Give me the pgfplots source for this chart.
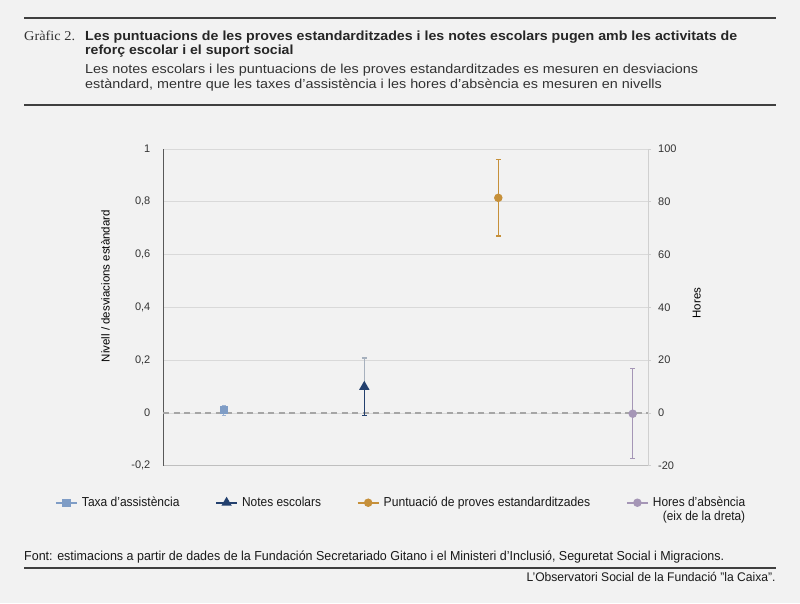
\documentclass[border=0pt]{standalone}
\usepackage{fontspec}
\setmainfont{Liberation Sans}
\newfontfamily\serifc{Liberation Serif}
\usepackage{graphicx}
\usepackage{pgfplots}
\pgfplotsset{compat=1.18}
\definecolor{bg}{HTML}{F2F2F2}
\definecolor{txt}{HTML}{333333}
\definecolor{rulec}{HTML}{3F3F3F}
\definecolor{gridc}{HTML}{D9D9D9}
\definecolor{c595959}{HTML}{595959}
\definecolor{cBFBFBF}{HTML}{BFBFBF}
\definecolor{cD0D0D0}{HTML}{D0D0D0}
\definecolor{taxa}{HTML}{7F9DC6}
\definecolor{taxaE}{HTML}{9DB3D2}
\definecolor{notes}{HTML}{23406E}
\definecolor{notesE}{HTML}{A7B1BE}
\definecolor{punt}{HTML}{C6903A}
\definecolor{hores}{HTML}{A596B6}
\definecolor{zeroc}{HTML}{A6A6A6}
\begin{document}
\begin{tikzpicture}
\fill[bg] (0,0) rectangle (800pt,603pt);
% header
\draw[rulec, line width=2pt] (24pt,584.7pt) -- (775.7pt,584.7pt);
\draw[rulec, line width=2pt] (24pt,498pt) -- (775.7pt,498pt);
\node[anchor=base west, inner sep=0pt, text=txt] at (24pt,562pt) {\serifc\fontsize{13.5}{16}\selectfont\resizebox{51pt}{\height}{Gràfic 2.}};
\node[anchor=base west, inner sep=0pt, text=black!85] at (85pt,562pt) {\fontsize{13.2}{16}\selectfont\bfseries\resizebox{652pt}{\height}{Les puntuacions de les proves estandarditzades i les notes escolars pugen amb les activitats de}};
\node[anchor=base west, inner sep=0pt, text=black!85] at (85pt,548.3pt) {\fontsize{13.2}{16}\selectfont\bfseries\resizebox{208.3pt}{\height}{reforç escolar i el suport social}};
\node[anchor=base west, inner sep=0pt, text=txt] at (85pt,529pt) {\fontsize{13}{16}\selectfont\resizebox{613pt}{\height}{Les notes escolars i les puntuacions de les proves estandarditzades es mesuren en desviacions}};
\node[anchor=base west, inner sep=0pt, text=txt] at (85pt,514.7pt) {\fontsize{13}{16}\selectfont\resizebox{576.7pt}{\height}{estàndard, mentre que les taxes d’assistència i les hores d’absència es mesuren en nivells}};
% footer
\node[anchor=base west, inner sep=0pt, text=black!90] at (24pt,43pt) {\fontsize{13}{16}\selectfont\resizebox{700pt}{\height}{Font: estimacions a partir de dades de la Fundación Secretariado Gitano i el Ministeri d’Inclusió, Seguretat Social i Migracions.}};
\draw[rulec, line width=2pt] (24pt,34.7pt) -- (775.7pt,34.7pt);
\node[anchor=base east, inner sep=0pt, text=black!90] at (775.7pt,22pt) {\fontsize{12.5}{15}\selectfont\resizebox{249pt}{\height}{L’Observatori Social de la Fundació ”la Caixa”.}};

\begin{axis}[
  at={(163pt,137.3pt)}, anchor=south west,
  scale only axis, width=485pt, height=316.7pt,
  xmin=0, xmax=485, ymin=-0.2, ymax=1,
  axis y line*=left, axis x line*=bottom,
  y axis line style={draw=c595959, line width=0.9pt, -},
  x axis line style={draw=cBFBFBF, line width=0.9pt, -},
  xtick=\empty,
  ytick={-0.2,0,0.2,0.4,0.6,0.8,1},
  ymajorgrids, grid style={draw=gridc, line width=0.8pt},
  major tick length=0pt,
  /pgf/number format/use comma,
  /pgf/number format/fixed,
  /pgf/number format/precision=1,
  /pgf/number format/assume math mode=true,
  yticklabel style={font=\fontsize{11}{13}\selectfont, text=txt, inner sep=0pt, xshift=-12.5pt},
  ylabel={Nivell / desviacions estàndard},
  ylabel style={at={(axis description cs:-0.1186,0.567)}, anchor=center, font=\fontsize{11.5}{13}\selectfont, text=black},
  legend columns=4,
  legend cell align=left,
  legend style={draw=none, fill=none, at={(axis description cs:-0.2227,-0.0988)}, anchor=north west, inner sep=0pt,
    nodes={inner sep=0pt, text=black!90, font=\fontsize{13}{13.3}\selectfont},
    /tikz/every even column/.append style={column sep=35.8pt},
    /tikz/every odd column/.append style={column sep=4.2pt}},
  legend image code/.code={\draw[mark repeat=2,mark phase=2,#1] plot coordinates {(0pt,0pt) (10.5pt,0pt) (21pt,0pt)};},
]
\addplot[forget plot, draw=zeroc, line width=1.3pt, dash pattern=on 6pt off 4.5pt] coordinates {(0,0) (485,0)};

\addplot[color=taxa, mark=square*, mark size=3.4pt, line width=1.6pt,
  error bars/.cd, y dir=both, y explicit,
  error bar style={line width=1.2pt, draw=taxaE},
  error mark options={rotate=90, draw=taxaE, mark size=2pt, line width=1.2pt}]
  coordinates {(60.7,0.01) +- (0,0.019)};
\addlegendentry{\resizebox{97.5pt}{\height}{Taxa d’assistència}}

\addplot[forget plot, color=notesE, mark=none,
  error bars/.cd, y dir=plus, y explicit,
  error bar style={line width=1.2pt, draw=notesE},
  error mark options={rotate=90, draw=notesE, mark size=2.5pt, line width=1.2pt}]
  coordinates {(201.3,0.099) +- (0,0.109)};
\addplot[color=notes, mark=triangle*, mark size=4.4pt, line width=1.6pt,
  error bars/.cd, y dir=minus, y explicit,
  error bar style={line width=1.2pt, draw=notes},
  error mark options={rotate=90, draw=notes, mark size=2.5pt, line width=1.2pt}]
  coordinates {(201.3,0.099) +- (0,0.11)};
\addlegendentry{\resizebox{79pt}{\height}{Notes escolars}}

\addplot[color=punt, mark=*, mark size=3.4pt, line width=1.6pt,
  error bars/.cd, y dir=both, y explicit,
  error bar style={line width=1.2pt, draw=punt},
  error mark options={rotate=90, draw=punt, mark size=2.5pt, line width=1.2pt}]
  coordinates {(335.3,0.815) +- (0,0.145)};
\addlegendentry{\resizebox{206.6pt}{\height}{Puntuació de proves estandarditzades}}

\addlegendimage{color=hores, mark=*, mark size=3.4pt, line width=1.6pt}
\addlegendentry{{\fontsize{13}{13.6}\selectfont\begin{tabular}[t]{@{}r@{}}\resizebox{92.3pt}{\height}{Hores d’absència}\\\resizebox{82.3pt}{\height}{(eix de la dreta)}\end{tabular}}}
\end{axis}

\begin{axis}[
  at={(163pt,137.3pt)}, anchor=south west,
  scale only axis, width=485pt, height=316.7pt,
  xmin=0, xmax=485, ymin=-20, ymax=100,
  axis y line*=right, axis x line=none,
  y axis line style={draw=cD0D0D0, line width=0.9pt, -},
  ytick={-20,0,20,40,60,80,100},
  tick align=outside, major tick length=3pt,
  tick style={draw=cD0D0D0, line width=0.8pt},
  /pgf/number format/assume math mode=true,
  yticklabel style={font=\fontsize{11}{13}\selectfont, text=txt, inner sep=0pt, xshift=7pt},
  ylabel={Hores},
  ylabel style={at={(axis description cs:1.1004,0.5137)}, anchor=center, font=\fontsize{11.5}{13}\selectfont, text=black},
]
\addplot[color=hores, mark=*, mark size=3.4pt, line width=1.6pt,
  error bars/.cd, y dir=both, y explicit,
  error bar style={line width=1.2pt, draw=hores},
  error mark options={rotate=90, draw=hores, mark size=2.5pt, line width=1.2pt}]
  coordinates {(469.7,-0.3) +- (0,17)};
\end{axis}
\end{tikzpicture}
\end{document}
